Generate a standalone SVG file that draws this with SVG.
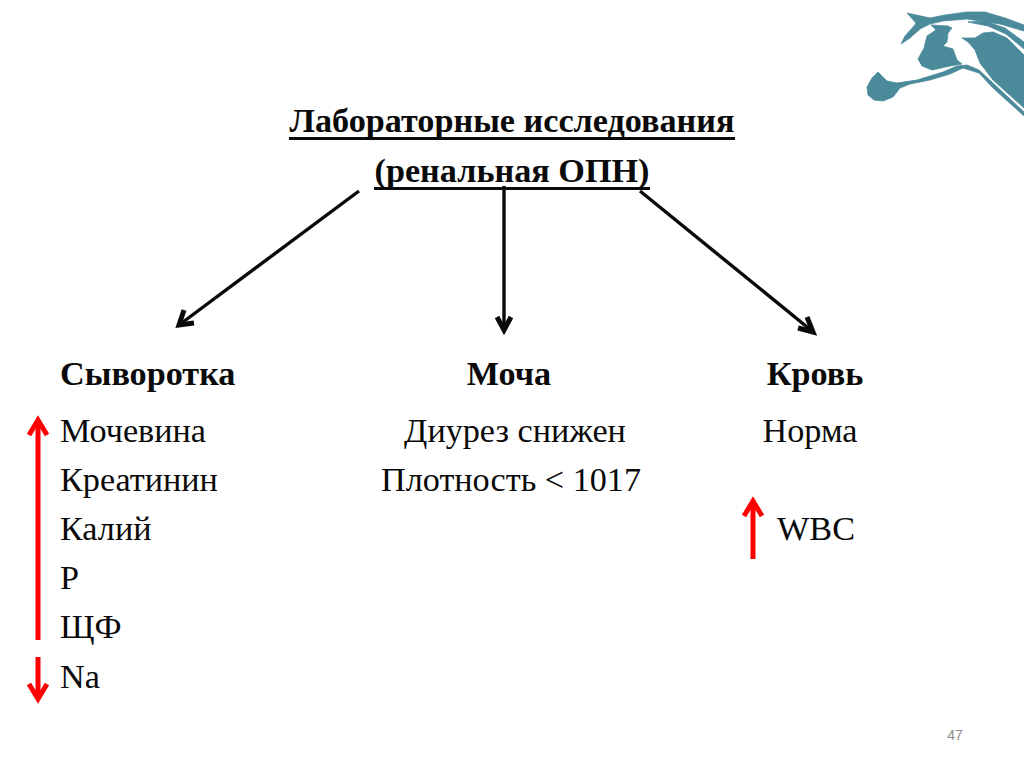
<svg xmlns="http://www.w3.org/2000/svg" width="1024" height="767" viewBox="0 0 1024 767">
<style>
text{font-family:"Liberation Serif","Times New Roman",serif;fill:#0a0a0a;font-size:34.2px}
.b{font-weight:bold}
.m{text-anchor:middle}
.k{stroke:#0a0a0a;stroke-width:3.4;fill:none}
.kh{stroke:#0a0a0a;stroke-width:5;fill:none;stroke-linejoin:miter}
.r{stroke:#f00;stroke-width:5;fill:none}
.rh{stroke:#f00;stroke-width:5;fill:none;stroke-linejoin:miter}
.t{fill:#4b8a9b;stroke:#4b8a9b;stroke-width:.8;stroke-linejoin:round}
</style>
<rect width="1024" height="767" fill="#fff"/>
<g id="logo">
<path class="t" d="M867,87L872,78L878,72L887,81L897,83L917,80L943,72L957,66L967,65L979,70L993,83L1024,112V116L993,88L979,73L963,68L950,74L930,80L910,84L900,88L893,97L883,101L874,100L868,95Z"/>
<path class="t" d="M907,13L930,18L945,15L967,12L985,12L1005,18L1024,25V31L1000,24L967,19L943,21L930,24L920,29L910,38L901,44L905,36L914,26L916,23Z"/>
<path class="t" d="M968,22L985,21L1005,28L1024,42V49L1006,34L988,26Z"/>
<path class="t" d="M931,25L948,26L952,28L948,33L947,42L943,46L953,49L957,60L962,64L950,66L932,70L922,66L918,59L924,48L927,36L936,30Z"/>
<path class="t" d="M962,38L975,38L983,33L993,32L1007,38L1024,55V108L993,80L980,63L975,50L968,42Z"/>
</g>
<g id="title">
<text class="b m" x="512" y="132">Лабораторные исследования</text>
<rect x="289" y="137" width="446" height="3" fill="#0a0a0a"/>
<text class="b m" x="512" y="182">(ренальная ОПН)</text>
<rect x="374" y="187" width="276" height="3" fill="#0a0a0a"/>
</g>
<g id="connectors">
<path class="k" d="M359 191L179 325"/><path class="kh" d="M194 323L179 325L184 310"/>
<path class="k" d="M504 186V329"/><path class="kh" d="M497 317L504 330L511 317"/>
<path class="k" d="M640 191L812 331"/><path class="kh" d="M798 328L813 332L807 317"/>
<path class="r" d="M38 640V422"/><path class="rh" d="M29 435L38 420L47 435"/>
<path class="r" d="M38 657V698"/><path class="rh" d="M29 684L38 699L47 684"/>
<path class="r" d="M753 559V502"/><path class="rh" d="M744 516L753 501L762 516"/>
</g>
<g id="serum">
<text class="b" x="60" y="385">Сыворотка</text>
<text x="60" y="442">Мочевина</text>
<text x="60" y="491">Креатинин</text>
<text x="60" y="540">Калий</text>
<text x="60" y="589">Р</text>
<text x="60" y="638">ЩФ</text>
<text x="60" y="688">Na</text>
</g>
<g id="urine">
<text class="b m" x="509" y="385">Моча</text>
<text class="m" x="515" y="442">Диурез снижен</text>
<text class="m" x="511" y="491">Плотность &lt; 1017</text>
</g>
<g id="blood">
<text class="b m" x="815" y="385">Кровь</text>
<text class="m" x="810" y="442">Норма</text>
<text class="m" x="816" y="540">WBC</text>
</g>
<text id="page" x="955" y="740" style="font-family:'Liberation Sans',sans-serif;font-size:14px;fill:#8c8c8c" text-anchor="middle">47</text>
</svg>
